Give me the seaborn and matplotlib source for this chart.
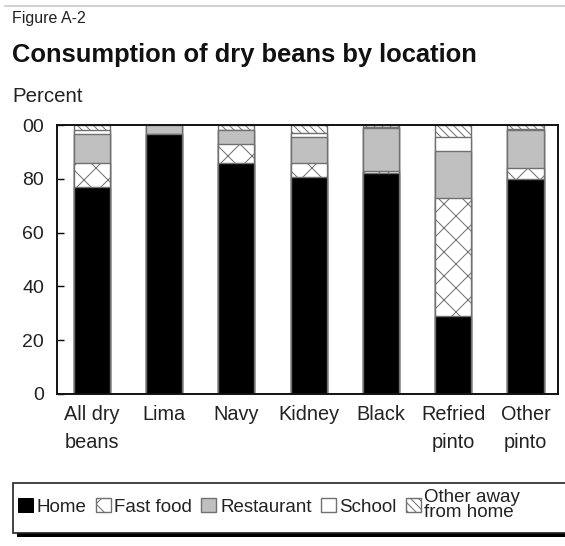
import matplotlib
matplotlib.use("Agg")
import matplotlib.pyplot as plt
from matplotlib.patches import Patch, Rectangle
from matplotlib.lines import Line2D
import pandas as pd
import seaborn as sns

# Share of dry-bean consumption (%) by where it was eaten
categories = ["All dry\nbeans", "Lima", "Navy", "Kidney", "Black", "Refried\npinto", "Other\npinto"]
home       = [77.0, 96.5, 86.0, 80.5, 82.0, 29.0, 80.0]
fast_food  = [9.0,  0.0,  7.0,  5.5,  1.0,  44.0, 4.0]
restaurant = [10.5, 3.5,  5.0,  9.5,  16.0, 17.5, 14.0]
school     = [1.5,  0.0,  0.3,  1.5,  0.3,  5.0,  0.5]
other_away = [2.0,  0.0,  1.7,  3.0,  0.7,  4.5,  1.5]

series_names = ["Home", "Fast food", "Restaurant", "School", "Other away\nfrom home"]
ytick_values = [0, 20, 40, 60, 80, 100]
ytick_labels = ["0", "20", "40", "60", "80", "00"]

# fill colour and hatch for each location
styles = {
    "Home":                   dict(color="#000000", hatch=None),
    "Fast food":              dict(color="#ffffff", hatch="x"),
    "Restaurant":             dict(color="#c0c0c0", hatch=None),
    "School":                 dict(color="#ffffff", hatch=None),
    "Other away\nfrom home":  dict(color="#ffffff", hatch="\\\\\\"),
}

df = pd.DataFrame({"category": categories,
                   "Home": home, "Fast food": fast_food, "Restaurant": restaurant,
                   "School": school, "Other away\nfrom home": other_away})
cum = df[series_names].cumsum(axis=1)
cum["category"] = df["category"]

# rendered at 72 dpi so that hatch spacing is finer; sizes below scaled by S
DPI = 72
S = 100 / DPI
W, H = 565, 546

plt.rcParams["font.family"] = ["Liberation Sans", "DejaVu Sans"]
plt.rcParams["hatch.linewidth"] = 1.0

fig = plt.figure(figsize=(W / DPI, H / DPI), dpi=DPI)
ax = fig.add_axes([57 / W, 152 / H, (558 - 57) / W, (394 - 125) / H])

edge = "#707070"
# stacked bars: draw cumulative totals from the top layer downwards
for name in reversed(series_names):
    st = styles[name]
    sns.barplot(data=cum, x="category", y=name, color=st["color"], saturation=1,
                errorbar=None, width=0.5, edgecolor=edge, linewidth=1.0 * S,
                hatch=st["hatch"], ax=ax)

ax.set_xlim(-0.48, 6.45)
ax.set_ylim(0, 100)
ax.set_xlabel("")
ax.set_ylabel("")
ax.set_yticks(ytick_values)
ax.set_yticklabels(ytick_labels, fontsize=14 * S, color="#222222")
ax.tick_params(axis="y", direction="in", length=7, width=1 * S, pad=13)
ax.tick_params(axis="x", length=0, pad=8 * S)
for lab in ax.get_xticklabels():
    lab.set_fontsize(14.3 * S)
    lab.set_linespacing(1.6)
    lab.set_color("#222222")
    lab.set_verticalalignment("top")
for sp in ax.spines.values():
    sp.set_color("#111111")
    sp.set_linewidth(1.4 * S)

# header texts
fig.add_artist(Line2D([5 / W, 1.0], [1 - 6 / H, 1 - 6 / H], color="#c8c8c8", lw=1.2 * S))
fig.text(12 / W, 1 - 18 / H, "Figure A-2", fontsize=11.5 * S, va="center", ha="left", color="#222222")
fig.text(12 / W, 1 - 55 / H, "Consumption of dry beans by location", fontsize=18.4 * S,
         fontweight="bold", va="center", ha="left", color="#111111")
fig.text(12 / W, 1 - 97 / H, "Percent", fontsize=14.8 * S, va="center", ha="left", color="#222222")

# legend box with a drop shadow, running off the right edge
def fig_rect(x0, y0, x1, y1, **kw):
    return Rectangle((x0 / W, 1 - y1 / H), (x1 - x0) / W, (y1 - y0) / H,
                     transform=fig.transFigure, **kw)

fig.add_artist(fig_rect(17, 487, 590, 537, facecolor="black", edgecolor="none", zorder=1))
fig.add_artist(fig_rect(13, 483, 585, 533, facecolor="white", edgecolor="#222222",
                        lw=1.2 * S, zorder=2))

handles = [Patch(facecolor=styles[n]["color"], hatch=styles[n]["hatch"], edgecolor=edge, lw=1.0 * S)
           for n in series_names]
handles[0] = Patch(facecolor="#000000", edgecolor="#000000")
leg = fig.legend(handles, series_names, loc="center left", ncol=5,
                 bbox_to_anchor=(18 / W, 1 - 505 / H), bbox_transform=fig.transFigure,
                 fontsize=13.5 * S, frameon=False, borderaxespad=0,
                 handlelength=0.8, handleheight=0.8, handletextpad=0.2,
                 columnspacing=0.48, borderpad=0.0)
leg.set_zorder(3)
for t in leg.get_texts():
    t.set_linespacing(0.85)
    t.set_color("#222222")

fig.savefig("out.png", dpi=DPI)
